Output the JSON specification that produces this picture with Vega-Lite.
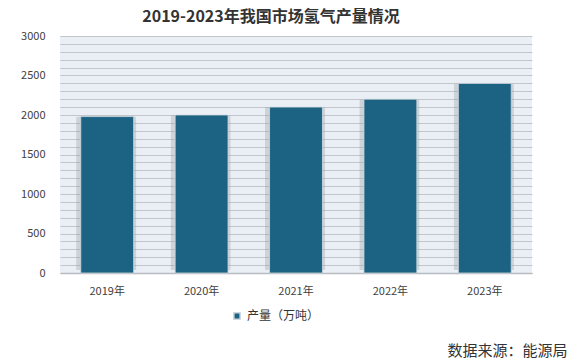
{
  "$schema": "https://vega.github.io/schema/vega-lite/v6.json",
  "width": 472,
  "height": 237,
  "autosize": {"type": "none"},
  "padding": {"left": 60, "top": 36, "right": 39, "bottom": 86},
  "background": "#ffffff",
  "title": {
    "text": "2019-2023年我国市场氢气产量情况",
    "font": "Noto Sans CJK SC",
    "fontSize": 16,
    "fontWeight": "bold",
    "color": "#333333",
    "anchor": "middle",
    "dx": -25,
    "offset": 5
  },
  "data": {
    "values": [
      {"year": "2019年", "value": 1980, "series": "产量（万吨）"},
      {"year": "2020年", "value": 2000, "series": "产量（万吨）"},
      {"year": "2021年", "value": 2100, "series": "产量（万吨）"},
      {"year": "2022年", "value": 2200, "series": "产量（万吨）"},
      {"year": "2023年", "value": 2400, "series": "产量（万吨）"}
    ]
  },
  "config": {
    "view": {"fill": "#e9eff5", "stroke": null},
    "font": "Noto Sans CJK SC"
  },
  "encoding": {
    "x": {
      "field": "year",
      "type": "nominal",
      "sort": null,
      "scale": {"paddingInner": 0.44, "paddingOuter": 0.22},
      "axis": {
        "title": "数据来源：能源局",
        "titleFont": "Noto Sans CJK SC",
        "titleFontSize": 15,
        "titleFontWeight": "normal",
        "titleColor": "#333333",
        "titleAnchor": "end",
        "titleAlign": "right",
        "titleBaseline": "middle",
        "titleX": 507,
        "titleY": 77,
        "labelAngle": 0,
        "labelFontSize": 11,
        "labelColor": "#404040",
        "labelPadding": 12,
        "ticks": false,
        "domainColor": "#b8bcc0",
        "domainWidth": 1.5
      }
    },
    "y": {
      "field": "value",
      "type": "quantitative",
      "scale": {"domain": [0, 3000], "nice": false},
      "axis": {
        "title": null,
        "values": [0,100,200,300,400,500,600,700,800,900,1000,1100,1200,1300,1400,1500,1600,1700,1800,1900,2000,2100,2200,2300,2400,2500,2600,2700,2800,2900,3000],
        "labelExpr": "datum.value % 500 === 0 ? datum.label : ''",
        "format": "d",
        "labelFontSize": 11,
        "labelColor": "#404040",
        "labelPadding": 15,
        "ticks": false,
        "domain": false,
        "grid": true,
        "gridColor": "#c2c6ca",
        "gridWidth": 1.2
      }
    }
  },
  "layer": [
    {
      "mark": {"type": "bar", "color": "#8f9499", "opacity": 0.3, "width": {"band": 1.14}, "yOffset": -3, "xOffset": -1, "cornerRadius": 2}
    },
    {
      "mark": {"type": "bar", "stroke": "#cfd8de", "strokeWidth": 0.8},
      "encoding": {
        "color": {
          "field": "series",
          "type": "nominal",
          "scale": {"range": ["#1b6283"]},
          "legend": {
            "title": null,
            "orient": "none",
            "legendX": 165,
            "legendY": 268,
            "symbolType": "square",
            "symbolSize": 40,
            "labelFontSize": 12,
            "labelColor": "#333333",
            "fillColor": "#ffffff",
            "padding": 6
          }
        }
      }
    }
  ]
}
